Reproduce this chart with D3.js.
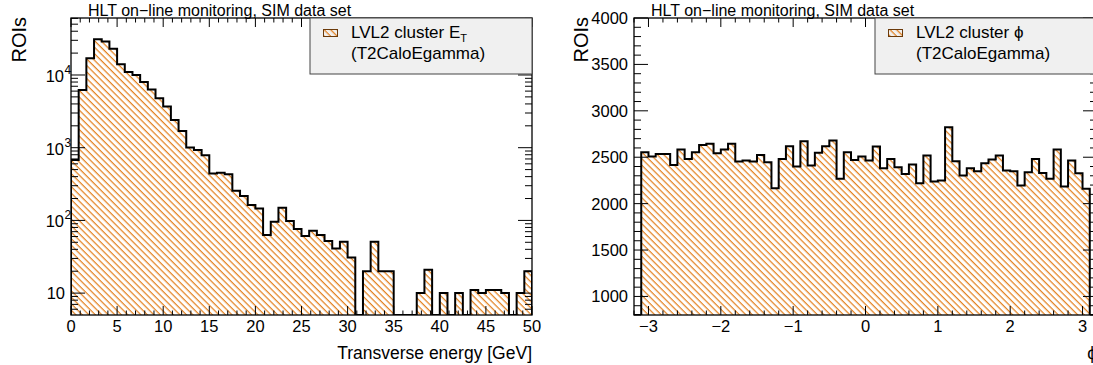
<!DOCTYPE html>
<html><head><meta charset="utf-8">
<script src="https://cdn.jsdelivr.net/npm/d3@7"></script>
<style>
body{margin:0;background:#fff}
svg{display:block}
text{font-family:"Liberation Sans",Arial,Helvetica,sans-serif;fill:#000}
</style>
</head><body>
<svg id="c" width="1093" height="365"></svg>
<script>
// ---------------- data ----------------
const titleText = "HLT on\u2212line monitoring, SIM data set";
const yTitle = "ROIs";

// Left: LVL2 cluster E_T, 60 bins over [0,50] GeV
const etBinRange = [0, 50];
const etCounts = [
  676, 6200, 17000, 31000, 29000, 23000, 14000, 11000, 10000, 8000,
  6300, 4800, 3700, 2400, 1700, 1010, 930, 790, 443, 452,
  430, 256, 216, 163, 146, 63, 96, 149, 98, 76,
  61, 72, 63, 52, 41, 51, 31, 0, 20, 51,
  20, 20, 0, 0, 0, 10, 21, 0, 10, 0,
  10, 0, 11, 10, 11, 11, 10, 0, 10, 20
];
const etXDomain = [0, 50];
const etYDomain = [5, 60800];
const etXMajor = [0, 5, 10, 15, 20, 25, 30, 35, 40, 45, 50];
const etYMajorExp = [1, 2, 3, 4];
const etLegend = ["LVL2 cluster E", "T", "(T2CaloEgamma)"];
const etXTitle = "Transverse energy [GeV]";

// Right: LVL2 cluster phi, 64 bins over [-3.2,3.2]
const phiBinRange = [-3.2, 3.2];
const phiCounts = [
  0,
  2554, 2507, 2536, 2536, 2417, 2583, 2482, 2554, 2633, 2644,
  2543, 2583, 2644, 2453, 2464, 2453, 2525, 2446, 2166, 2482,
  2619, 2399, 2672, 2410, 2547, 2619, 2680, 2267, 2554, 2471,
  2507, 2464, 2615, 2381, 2482, 2392, 2320, 2421, 2220, 2518,
  2238, 2249, 2823, 2457, 2302, 2381, 2349, 2435, 2475, 2518,
  2356, 2349, 2195, 2338, 2482, 2331, 2267, 2583, 2184, 2464,
  2328, 2159,
  0
];
const phiXDomain = [-3.2, 3.2];
const phiYDomain = [800, 4000];
const phiXMajor = [-3, -2, -1, 0, 1, 2, 3];
const phiYMajor = [1000, 1500, 2000, 2500, 3000, 3500, 4000];
const phiLegend = ["LVL2 cluster \u03D5", "(T2CaloEgamma)"];
const phiXTitle = "\u03D5";

// ---------------- drawing ----------------
const svg = d3.select("#c");
const defs = svg.append("defs");
const HATCH_COL = "#e27d18";
const pat = defs.append("pattern").attr("id", "hatch")
  .attr("patternUnits", "userSpaceOnUse")
  .attr("width", 4.6).attr("height", 10)
  .attr("patternTransform", "rotate(-45)");
pat.append("line").attr("x1", 1.2).attr("y1", -1).attr("x2", 1.2).attr("y2", 11)
  .attr("stroke", HATCH_COL).attr("stroke-width", 1.2);

function panel(opts) {
  const f = opts.frame;
  const g = svg.append("g");
  const clipId = opts.id + "clip";
  defs.append("clipPath").attr("id", clipId).append("rect")
    .attr("x", f.x0).attr("y", f.y0).attr("width", f.x1 - f.x0).attr("height", f.y1 - f.y0);

  const x = d3.scaleLinear().domain(opts.xDomain).range([f.x0, f.x1]);
  const y = opts.log
    ? d3.scaleLog().domain(opts.yDomain).range([f.y1, f.y0])
    : d3.scaleLinear().domain(opts.yDomain).range([f.y1, f.y0]);

  // histogram
  const n = opts.counts.length;
  const lo = opts.binRange[0];
  const bw = (opts.binRange[1] - opts.binRange[0]) / n;
  const ymin = opts.yDomain[0];
  const pts = [[x(lo), f.y1]];
  opts.counts.forEach((c, i) => {
    const yy = c > ymin ? y(c) : f.y1;
    pts.push([x(lo + i * bw), yy]);
    pts.push([x(lo + (i + 1) * bw), yy]);
  });
  pts.push([x(opts.binRange[1]), f.y1]);
  const line = d3.line();
  const hg = g.append("g").attr("clip-path", `url(#${clipId})`);
  hg.append("path").attr("d", line(pts) + "Z").attr("fill", "url(#hatch)").attr("stroke", "none");
  hg.append("path").attr("d", line(pts)).attr("fill", "none")
    .attr("stroke", "#000").attr("stroke-width", 2).attr("stroke-linejoin", "miter");

  // ticks
  const tk = g.append("g").attr("stroke", "#000").attr("stroke-width", 1);
  const xl = 9, yl = 14;
  function xt(v, len) {
    tk.append("line").attr("x1", x(v)).attr("x2", x(v)).attr("y1", f.y1).attr("y2", f.y1 - len);
    tk.append("line").attr("x1", x(v)).attr("x2", x(v)).attr("y1", f.y0).attr("y2", f.y0 + len);
  }
  function yt(v, len) {
    tk.append("line").attr("y1", y(v)).attr("y2", y(v)).attr("x1", f.x0).attr("x2", f.x0 + len);
    tk.append("line").attr("y1", y(v)).attr("y2", y(v)).attr("x1", f.x1).attr("x2", f.x1 - len);
  }
  opts.xMajor.forEach(v => xt(v, xl));
  opts.xMinor.forEach(v => xt(v, xl / 2));
  opts.yMajor.forEach(v => yt(v, yl));
  opts.yMinor.forEach(v => yt(v, yl / 2));

  // frame
  g.append("rect").attr("x", f.x0).attr("y", f.y0).attr("width", f.x1 - f.x0).attr("height", f.y1 - f.y0)
    .attr("fill", "none").attr("stroke", "#000").attr("stroke-width", 1.3);

  // x labels
  g.append("g").selectAll("text").data(opts.xMajor).join("text")
    .attr("x", d => x(d)).attr("y", 332).attr("text-anchor", "middle")
    .attr("font-size", 16.5).text(d => d < 0 ? "\u2212" + Math.abs(d) : String(d));

  // y labels
  if (opts.log) {
    opts.yMajor.forEach(v => {
      const e = Math.round(Math.log10(v));
      if (e === 1) {
        g.append("text").attr("x", f.x0 - 6).attr("y", y(v)).attr("dy", "0.36em")
          .attr("text-anchor", "end").attr("font-size", 16.5).text("10");
      } else {
        g.append("text").attr("x", f.x0 - 7).attr("y", y(v) + 1).attr("dy", "0.36em")
          .attr("text-anchor", "end").attr("font-size", 16.5).text("10");
        g.append("text").attr("x", f.x0 - 6.5).attr("y", y(v) - 1)
          .attr("text-anchor", "start").attr("font-size", 12).text(String(e));
      }
    });
  } else {
    g.append("g").selectAll("text").data(opts.yMajor).join("text")
      .attr("x", f.x0 - 6).attr("y", d => y(d)).attr("dy", "0.36em")
      .attr("text-anchor", "end").attr("font-size", 16.5).text(d => String(d));
  }

  // axis titles
  g.append("text").attr("transform", `translate(${opts.yTitleX},${f.y0 - 1}) rotate(-90)`)
    .attr("text-anchor", "end").attr("font-size", 20).text(yTitle);
  g.append("text").attr("x", f.x1).attr("y", 359).attr("text-anchor", "end")
    .attr("font-size", 17.5).text(opts.xTitle);

  // title
  svg.append("text").attr("x", f.x0 + 17).attr("y", 15.5).attr("font-size", 16).text(titleText);

  // legend
  const lg = svg.append("g");
  const lx0 = f.x1 - 222;
  lg.append("rect").attr("x", lx0).attr("y", f.y0).attr("width", 222).attr("height", 56)
    .attr("fill", "#f0f0f0").attr("stroke", "#444").attr("stroke-width", 1);
  lg.append("rect").attr("x", lx0 + 13.5).attr("y", 29.5).attr("width", 14).attr("height", 7)
    .attr("fill", "url(#hatch)").attr("stroke", "#6b3a0a").attr("stroke-width", 1);
  const t1 = lg.append("text").attr("x", lx0 + 41).attr("y", 38).attr("font-size", 17);
  t1.append("tspan").text(opts.legend[0]);
  if (opts.legend.length > 2) {
    t1.append("tspan").attr("font-size", 11).attr("dy", 4).text(opts.legend[1]);
  }
  lg.append("text").attr("x", lx0 + 41).attr("y", 59).attr("font-size", 17)
    .text(opts.legend[opts.legend.length - 1]);
}

// minor ticks
const etXMinor = d3.range(0, 51).filter(v => v % 5 !== 0);
const etYMajor = etYMajorExp.map(e => Math.pow(10, e));
const etYMinor = [];
[1, 10, 100, 1000, 10000].forEach(d => {
  for (let m = 2; m <= 9; m++) {
    const v = m * d;
    if (v > etYDomain[0] && v < etYDomain[1]) etYMinor.push(v);
  }
});
const phiXMinor = d3.range(-32, 33, 2).map(v => v / 10).filter(v => Math.abs(v - Math.round(v)) > 1e-9);
const phiYMinor = d3.range(800, 4001, 100).filter(v => v % 500 !== 0);

panel({
  id: "et", frame: {x0: 71, x1: 532, y0: 18, y1: 315}, log: true,
  xDomain: etXDomain, yDomain: etYDomain, binRange: etBinRange, counts: etCounts,
  xMajor: etXMajor, xMinor: etXMinor, yMajor: etYMajor, yMinor: etYMinor,
  legend: etLegend, xTitle: etXTitle, yTitleX: 26
});
panel({
  id: "phi", frame: {x0: 634, x1: 1097, y0: 18, y1: 315}, log: false,
  xDomain: phiXDomain, yDomain: phiYDomain, binRange: phiBinRange, counts: phiCounts,
  xMajor: phiXMajor, xMinor: phiXMinor, yMajor: phiYMajor, yMinor: phiYMinor,
  legend: phiLegend, xTitle: phiXTitle, yTitleX: 588
});
</script>
</body></html>
